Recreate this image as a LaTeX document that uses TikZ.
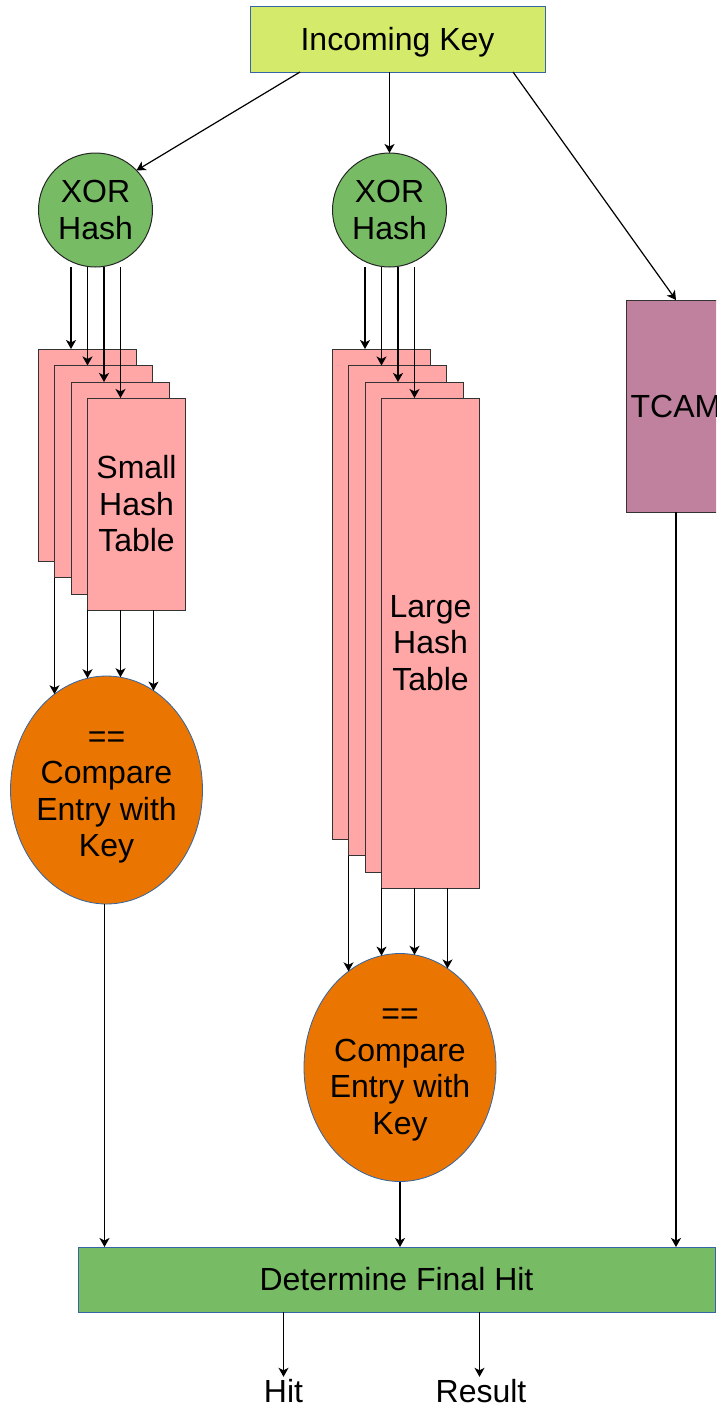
\documentclass[tikz,border=0pt]{standalone}
\usepackage{fontspec}
\setmainfont{Liberation Sans}
\usetikzlibrary{arrows.meta,calc,shapes.geometric}

\definecolor{keyfill}{HTML}{D4EA6B}
\definecolor{hashgreen}{HTML}{77BC65}
\definecolor{tblpink}{HTML}{FFA6A6}
\definecolor{cmporange}{HTML}{EA7500}
\definecolor{tcammauve}{HTML}{BF819E}
\definecolor{edgeblue}{HTML}{3465A4}
\definecolor{edgedark}{HTML}{333333}

% arrow from a start point straight down to the top border of an ellipse node
\newcommand\tocmp[2]{%
  \draw[arr] let \p1=(#1), \p2=(#2.center) in
    (\p1) -- (\x1,{\y2+114*sqrt(1-((\x1-\x2)/96)^2)});}

\begin{document}
\begin{tikzpicture}[x=1pt,y=-1pt,
  every node/.style={font=\fontsize{32pt}{36.5pt}\selectfont, text=black},
  arr/.style={-{Stealth[length=9pt,width=10pt,inset=2.5pt]}, line width=1.2pt},
  keybox/.style={rectangle, draw=edgeblue, fill=keyfill, line width=1pt,
    minimum width=295pt, minimum height=66pt, inner sep=0pt, outer sep=0pt},
  hashnode/.style={circle, draw=black!85, fill=hashgreen, line width=1pt,
    minimum size=114pt, inner sep=0pt, outer sep=0pt, align=center},
  tblbox/.style={rectangle, draw=edgedark, fill=tblpink, line width=1pt,
    minimum width=98pt, inner sep=0pt, outer sep=0pt, anchor=north west, align=center},
  cmpnode/.style={ellipse, draw=edgeblue, fill=cmporange, line width=0.8pt,
    minimum width=192pt, minimum height=228pt, inner sep=0pt, outer sep=0pt},
  cmptext/.style={align=center, yshift=-7.5pt},
  tcambox/.style={rectangle, draw=edgedark, fill=tcammauve, line width=1pt,
    minimum width=100pt, minimum height=212pt, inner sep=0pt, outer sep=0pt},
  finbox/.style={rectangle, draw=edgeblue, fill=hashgreen, line width=1pt,
    minimum width=637pt, minimum height=65pt, inner sep=0pt, outer sep=0pt},
  outtext/.style={anchor=base, inner sep=0pt, outer sep=2pt}
]
\path[use as bounding box, clip] (0,0) rectangle (716,1409);

% key and hash units
\node[keybox, label={[yshift=-3pt]center:Incoming Key}] (key) at (397.5,39) {};
\node[hashnode] (x1) at (95.5,210) {XOR\\Hash};
\node[hashnode] (x2) at (389.5,210) {XOR\\Hash};
\node[tcambox] (tcam) at (676,406) {TCAM};

\draw[arr] ($(key.south west)+(50,0)$) -- (x1.44);
\draw[arr] (x2.north |- key.south) -- (x2.north);
\draw[arr] ($(key.south west)+(263,0)$) -- (tcam.north);

% small hash tables
\node[tblbox, minimum height=212pt] (s1) at (38,349) {};
\node[tblbox, minimum height=212pt] (s2) at (54.5,365.5) {};
\node[tblbox, minimum height=212pt] (s3) at (71,382) {};
\node[tblbox, minimum height=212pt] (s4) at (87.5,398) {Small\\Hash\\Table};

% large hash tables
\node[tblbox, minimum height=490pt] (l1) at (332,349) {};
\node[tblbox, minimum height=490pt] (l2) at (348.5,365.5) {};
\node[tblbox, minimum height=490pt] (l3) at (365,382) {};
\node[tblbox, minimum height=490pt] (l4) at (381.5,398) {Large\\Hash\\Table};

% hash outputs into the tables
\foreach \t/\h in {s1/x1,s2/x1,s3/x1,s4/x1,l1/x2,l2/x2,l3/x2,l4/x2}{
  \coordinate (in-\t) at ($(\t.north west)+(33,0)$);
  \draw[arr] (in-\t |- \h.south) -- (in-\t);
}

% comparators
\node[cmpnode, label={[cmptext]center:{==\\Compare\\Entry with\\Key}}] (c1) at (106.5,790) {};
\node[cmpnode, label={[cmptext]center:{==\\Compare\\Entry with\\Key}}] (c2) at (400,1067.5) {};

\coordinate (so1) at (s2.south west);
\coordinate (so2) at (s4.south west);
\coordinate (so3) at ($(s4.south west)+(33,0)$);
\coordinate (so4) at ($(s4.south west)+(66,0)$);
\coordinate (lo1) at (l2.south west);
\coordinate (lo2) at (l4.south west);
\coordinate (lo3) at ($(l4.south west)+(33,0)$);
\coordinate (lo4) at ($(l4.south west)+(66,0)$);
\tocmp{so1}{c1}\tocmp{so2}{c1}\tocmp{so3}{c1}\tocmp{so4}{c1}
\tocmp{lo1}{c2}\tocmp{lo2}{c2}\tocmp{lo3}{c2}\tocmp{lo4}{c2}

% final decision
\node[finbox] (fin) at (396.5,1279.5) {Determine Final Hit};
\draw[arr] ([xshift=-2pt]c1.south) -- ([xshift=-2pt]c1.south |- fin.north);
\draw[arr] (c2.south) -- (c2.south |- fin.north);
\draw[arr] (tcam.south) -- (tcam.south |- fin.north);

\node[outtext] (hit) at (283.5,1402) {Hit};
\node[outtext] (res) at (481,1402) {Result};
\draw[arr] (hit.north |- fin.south) -- (hit.north);
\draw[arr] ([xshift=-1.5pt]res.north |- fin.south) -- ([xshift=-1.5pt]res.north);
\end{tikzpicture}
\end{document}
